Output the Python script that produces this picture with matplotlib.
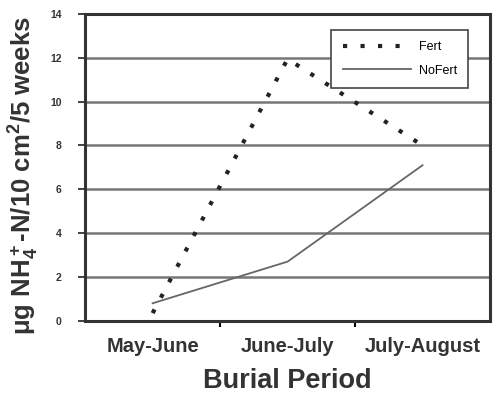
import matplotlib.pyplot as plt

plt.rcParams['font.family'] = ['Liberation Sans', 'DejaVu Sans']
plt.rcParams['mathtext.fontset'] = 'custom'
plt.rcParams['mathtext.rm'] = 'Liberation Sans:bold'
plt.rcParams['mathtext.it'] = 'Liberation Sans:bold'
plt.rcParams['mathtext.bf'] = 'Liberation Sans:bold'

periods = ['May-June', 'June-July', 'July-August']
fert = [0.35, 11.95, 8.0]
nofert = [0.8, 2.7, 7.1]

fig = plt.figure(figsize=(4.95, 4.0), dpi=100)
ax = fig.add_axes([0.172, 0.198, 0.818, 0.767])

x = range(len(periods))
ax.plot(x, fert, color='#222222', lw=3.0, linestyle=(0, (1.0, 3.2)), label='Fert')
ax.plot(x, nofert, color='#666666', lw=1.3, label='NoFert')

ax.set_xlim(-0.5, 2.5)
ax.set_ylim(0, 14)
ax.set_yticks(range(0, 15, 2))
ax.set_xticks(list(x))
ax.set_xticklabels(periods, fontsize=14.5, fontweight='bold', color='#333333')
ax.tick_params(axis='x', length=0, pad=12)
ax.set_xticks([0.5, 1.5], minor=True)
ax.tick_params(axis='x', which='minor', length=4, width=1.5, direction='out')
ax.tick_params(axis='y', length=5, width=1.3, color='#333333', direction='out',
               labelsize=7.5, pad=12, labelcolor='#333333')
for lab in ax.get_yticklabels():
    lab.set_fontweight('bold')

ax.grid(axis='y', color='#777777', lw=1.8)
ax.set_axisbelow(True)
for s in ax.spines.values():
    s.set_linewidth(2.2)
    s.set_color('#333333')

ax.set_ylabel(r'$\mathrm{\mu}$g NH$_4^+$-N/10 cm$^2$/5 weeks', fontsize=18.5,
              fontweight='bold', color='#333333')
ax.yaxis.set_label_coords(-0.108, 0.475)
ax.set_xlabel('Burial Period', fontsize=19.5, fontweight='bold',
              color='#333333', labelpad=8)

leg = ax.legend(loc='upper right', bbox_to_anchor=(0.962, 0.968), fancybox=False,
                fontsize=9, handlelength=5.5, handletextpad=0.6, borderpad=0.9,
                labelspacing=0.9, framealpha=1)
leg.get_frame().set_edgecolor('#444444')
leg.get_frame().set_linewidth(1.2)

fig.savefig('out.png', dpi=100)
